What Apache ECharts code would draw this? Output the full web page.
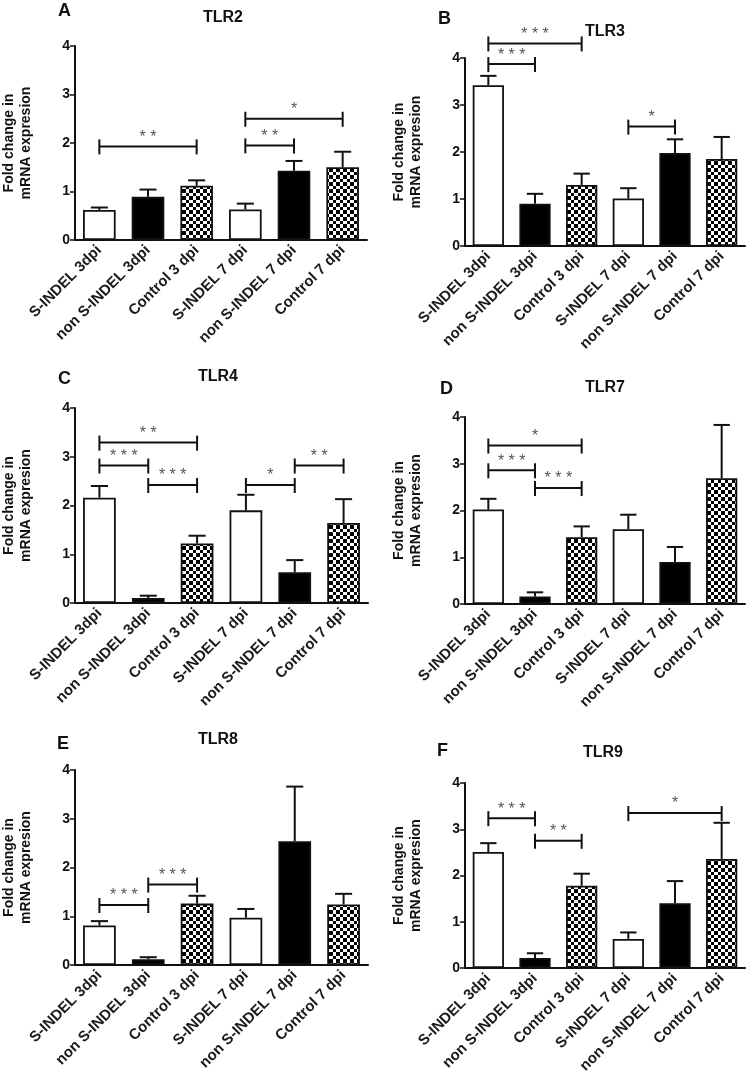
<!DOCTYPE html>
<html>
<head>
<meta charset="utf-8">
<script src="https://cdn.jsdelivr.net/npm/echarts@6/dist/echarts.min.js"></script>
<style>
html,body{margin:0;padding:0;background:#fff;}
#chart{width:750px;height:1076px;}
</style>
</head>
<body>
<div id="chart"></div>
<script>
// ---------- data ----------
const categories = ['S-INDEL 3dpi', 'non S-INDEL 3dpi', 'Control 3 dpi', 'S-INDEL 7 dpi', 'non S-INDEL 7 dpi', 'Control 7 dpi'];
const yTickValues = [0, 1, 2, 3, 4];

const tlr2Mean = [0.62, 0.89, 1.12, 0.63, 1.43, 1.50];
const tlr2Err  = [0.05, 0.15, 0.11, 0.12, 0.20, 0.32];
const tlr3Mean = [3.42, 0.90, 1.30, 1.01, 1.98, 1.85];
const tlr3Err  = [0.20, 0.21, 0.24, 0.22, 0.29, 0.47];
const tlr4Mean = [2.16, 0.10, 1.22, 1.90, 0.63, 1.64];
const tlr4Err  = [0.24, 0.05, 0.16, 0.32, 0.25, 0.49];
const tlr7Mean = [2.02, 0.16, 1.43, 1.60, 0.90, 2.69];
const tlr7Err  = [0.23, 0.09, 0.23, 0.31, 0.32, 1.14];
const tlr8Mean = [0.81, 0.12, 1.26, 0.97, 2.54, 1.24];
const tlr8Err  = [0.09, 0.04, 0.16, 0.18, 1.12, 0.22];
const tlr9Mean = [2.51, 0.22, 1.78, 0.63, 1.40, 2.36];
const tlr9Err  = [0.19, 0.10, 0.26, 0.14, 0.48, 0.78];

// significance brackets: [from category, to category, y level, stars]
const tlr2Sig = [[0, 2, 1.93, '**'], [3, 4, 1.95, '**'], [3, 5, 2.50, '*']];
const tlr3Sig = [[0, 2, 4.31, '***'], [0, 1, 3.87, '***'], [3, 4, 2.54, '*']];
const tlr4Sig = [[0, 2, 3.29, '**'], [0, 1, 2.82, '***'], [1, 2, 2.42, '***'], [3, 4, 2.42, '*'], [4, 5, 2.82, '**']];
const tlr7Sig = [[0, 2, 3.39, '*'], [0, 1, 2.86, '***'], [1, 2, 2.48, '***']];
const tlr8Sig = [[0, 1, 1.23, '***'], [1, 2, 1.65, '***']];
const tlr9Sig = [[0, 1, 3.24, '***'], [1, 2, 2.75, '**'], [3, 5, 3.35, '*']];

const panelLetters = ['A', 'B', 'C', 'D', 'E', 'F'];
const panelTitles = ['TLR2', 'TLR3', 'TLR4', 'TLR7', 'TLR8', 'TLR9'];
const yAxisName = 'Fold change in\nmRNA expresion';

const panelMeans = [tlr2Mean, tlr3Mean, tlr4Mean, tlr7Mean, tlr8Mean, tlr9Mean];
const panelErrs = [tlr2Err, tlr3Err, tlr4Err, tlr7Err, tlr8Err, tlr9Err];
const panelSigs = [tlr2Sig, tlr3Sig, tlr4Sig, tlr7Sig, tlr8Sig, tlr9Sig];

// ---------- layout / style ----------
const grids = [
  {left: 73,  top: 46,  width: 294, height: 194},
  {left: 465, top: 58,  width: 280, height: 188},
  {left: 74,  top: 408, width: 294, height: 195},
  {left: 465, top: 417, width: 280, height: 187},
  {left: 74,  top: 770, width: 294, height: 195},
  {left: 465, top: 783, width: 280, height: 189}
];
const letterPos = [[58, 2], [438, 10], [58, 370], [440, 380], [57, 735], [437, 742]];
const titlePos  = [[203, 10], [585, 24], [198, 369], [585, 380], [198, 732], [583, 745]];

const FONT = '"Liberation Sans", Arial, Helvetica, sans-serif';
const INK = '#111';

function checkerCanvas() {
  const c = document.createElement('canvas');
  c.width = 14; c.height = 14;
  const g = c.getContext('2d');
  g.fillStyle = '#fff'; g.fillRect(0, 0, 14, 14);
  g.fillStyle = '#000';
  const edges = [0, 4, 7, 11, 14];
  for (let i = 0; i < 4; i++) {
    for (let j = 0; j < 4; j++) {
      if ((i + j) % 2 === 0) g.fillRect(edges[i], edges[j], edges[i + 1] - edges[i], edges[j + 1] - edges[j]);
    }
  }
  return c;
}
const checker = {image: checkerCanvas(), repeat: 'repeat'};
const barFills = ['#ffffff', '#000000', checker, '#ffffff', '#000000', checker];

function renderErr(params, api) {
  const x = api.value(0), m = api.value(1), e = api.value(2);
  const p0 = api.coord([x, m]);
  const p1 = api.coord([x, m + e]);
  const half = api.size([1, 0])[0] * 0.175;
  const st = {stroke: INK, lineWidth: 2};
  return {type: 'group', children: [
    {type: 'line', shape: {x1: p0[0], y1: p0[1], x2: p1[0], y2: p1[1]}, style: st},
    {type: 'line', shape: {x1: p1[0] - half, y1: p1[1], x2: p1[0] + half, y2: p1[1]}, style: st}
  ]};
}

function makeRenderSig(sig) {
  return function (params, api) {
    const a = api.value(0), b = api.value(1), y = api.value(2);
    const p1 = api.coord([a, y]);
    const p2 = api.coord([b, y]);
    const st = {stroke: INK, lineWidth: 2};
    return {type: 'group', children: [
      {type: 'line', shape: {x1: p1[0], y1: p1[1], x2: p2[0], y2: p2[1]}, style: st},
      {type: 'line', shape: {x1: p1[0], y1: p1[1] - 7, x2: p1[0], y2: p1[1] + 8}, style: st},
      {type: 'line', shape: {x1: p2[0], y1: p2[1] - 7, x2: p2[0], y2: p2[1] + 8}, style: st},
      {type: 'text', x: (p1[0] + p2[0]) / 2, y: p1[1] - 1, style: {
        text: sig[params.dataIndex][3].split('').join(' '),
        font: '16px ' + FONT, fill: '#555', align: 'center', verticalAlign: 'bottom'}}
    ]};
  };
}

const option = {
  animation: false,
  backgroundColor: '#fff',
  grid: [], xAxis: [], yAxis: [], series: [], graphic: []
};

for (let k = 0; k < 6; k++) {
  option.grid.push(Object.assign({containLabel: false}, grids[k]));
  option.xAxis.push({
    type: 'category', gridIndex: k, data: categories,
    axisLine: {lineStyle: {color: INK, width: 2}},
    axisTick: {alignWithLabel: true, length: 5, lineStyle: {color: INK, width: 1.5}},
    axisLabel: {rotate: 45, margin: 8, interval: 0, color: '#1a1a1a', fontFamily: FONT, fontWeight: 'bold', fontSize: 15}
  });
  option.yAxis.push({
    type: 'value', gridIndex: k, min: yTickValues[0], max: yTickValues[yTickValues.length - 1], interval: 1,
    name: yAxisName, nameLocation: 'middle', nameRotate: 90, nameGap: 40,
    nameTextStyle: {color: INK, fontFamily: FONT, fontWeight: 'bold', fontSize: 14, lineHeight: 17},
    axisLine: {show: true, lineStyle: {color: INK, width: 2}},
    axisTick: {show: true, length: 5, lineStyle: {color: INK, width: 1.5}},
    splitLine: {show: false},
    axisLabel: {margin: 5, color: INK, fontFamily: FONT, fontWeight: 'bold', fontSize: 14}
  });
  option.series.push({
    type: 'bar', xAxisIndex: k, yAxisIndex: k, barWidth: '67%',
    data: panelMeans[k].map((v, i) => ({value: v, itemStyle: {color: barFills[i], borderColor: INK, borderWidth: 1.8}}))
  });
  option.series.push({
    type: 'custom', xAxisIndex: k, yAxisIndex: k, renderItem: renderErr, clip: false,
    encode: {x: 0, y: 1},
    data: panelMeans[k].map((v, i) => [i, v, panelErrs[k][i]])
  });
  option.series.push({
    type: 'custom', xAxisIndex: k, yAxisIndex: k, renderItem: makeRenderSig(panelSigs[k]), clip: false,
    encode: {x: 0, y: 2},
    data: panelSigs[k].map(s => [s[0], s[1], s[2]])
  });
  option.graphic.push({type: 'text', left: letterPos[k][0], top: letterPos[k][1],
    style: {text: panelLetters[k], font: 'bold 18px ' + FONT, fill: INK}});
  option.graphic.push({type: 'text', left: titlePos[k][0], top: titlePos[k][1],
    style: {text: panelTitles[k], font: 'bold 16px ' + FONT, fill: INK}});
}

const chart = echarts.init(document.getElementById('chart'));
chart.setOption(option);
</script>
</body>
</html>
